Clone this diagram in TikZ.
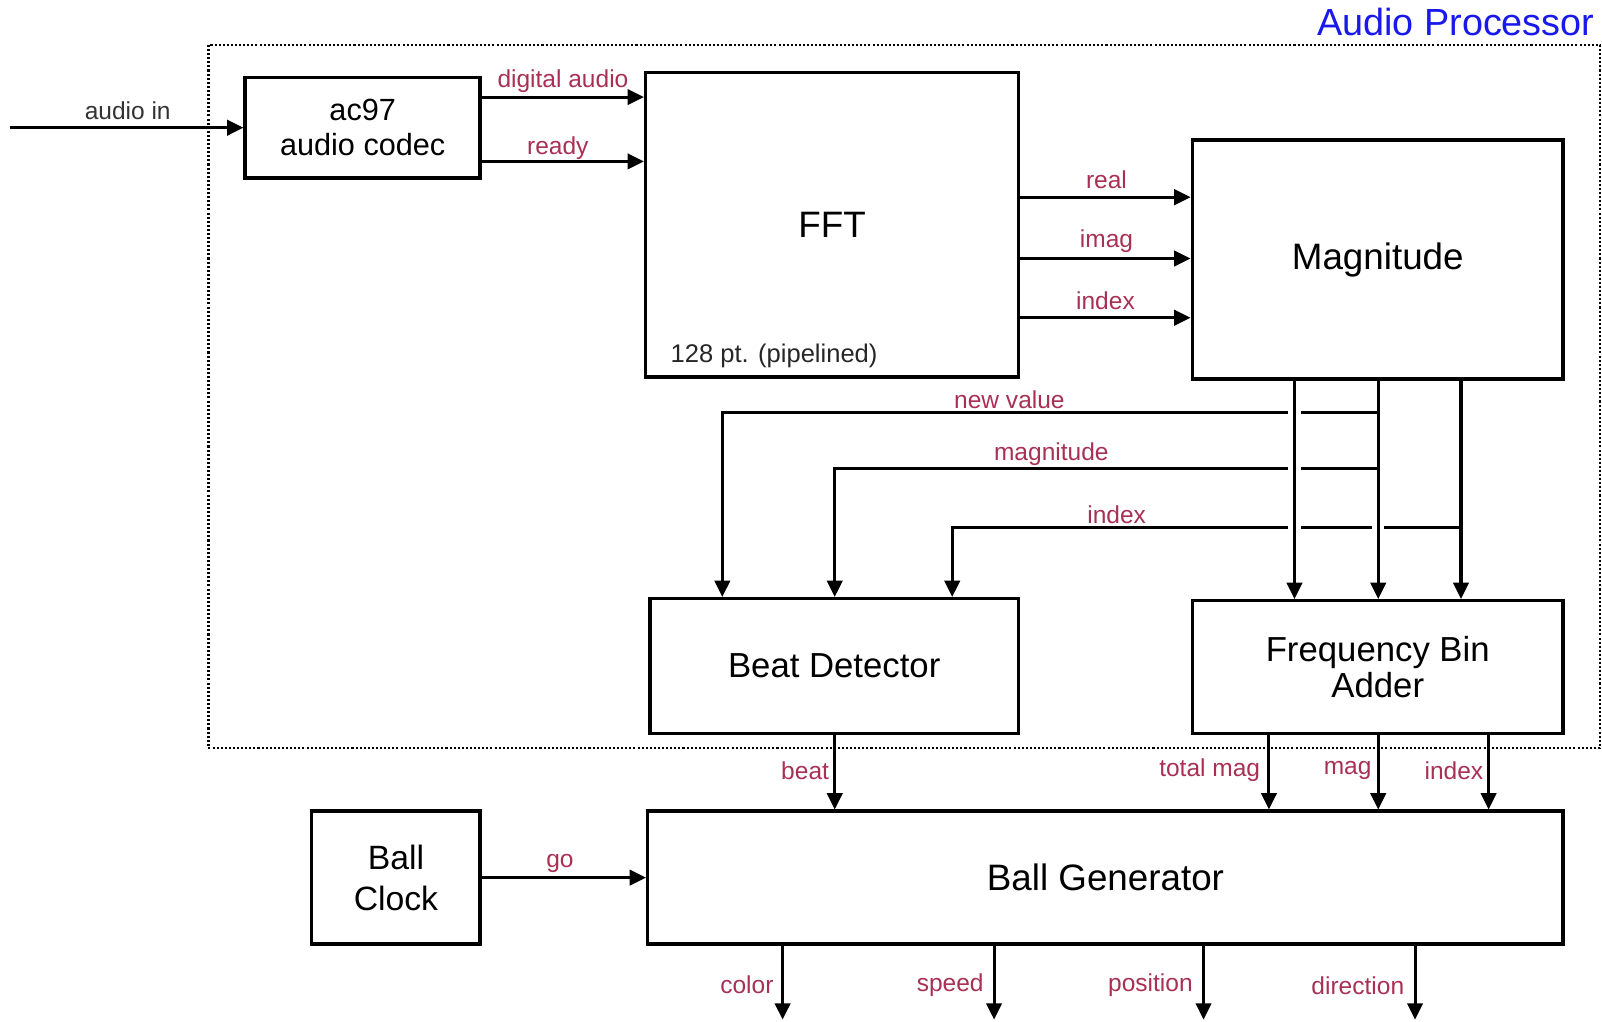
\documentclass[tikz,border=0pt]{standalone}
\usepackage{fontspec}
\setmainfont{Liberation Sans}
\usetikzlibrary{arrows.meta,calc}
\definecolor{labred}{RGB}{168,48,85}
\definecolor{titleblue}{RGB}{25,25,235}
\begin{document}
\begin{tikzpicture}[x=0.5pt,y=-0.5pt,
  box/.style={draw, line width=1.7pt, rectangle, inner sep=0pt, align=center, font=\fontsize{15}{17}\selectfont},
  arr/.style={line width=1.5pt, -{Triangle[length=8pt,width=7.5pt]}},
  lab/.style={text=labred, font=\fontsize{12}{14}\selectfont, inner sep=0pt},
  frame/.style={draw, line width=1.3pt, dash pattern=on 1pt off 1pt, inner sep=0pt}]
\useasboundingbox (0,0) rectangle (1568,1000);

% frame and title
\node[frame, minimum width=681pt, minimum height=344pt] (ap) at (885,388) {};
\node[anchor=east, inner sep=0pt, text=titleblue, font=\fontsize{18.5}{20}\selectfont] (title) at (1561,22) {Audio Processor};

% blocks
\node[box, minimum width=115pt, minimum height=49pt] (codec) at (355,125) {ac97\\audio codec};
\node[box, minimum width=182.5pt, minimum height=149pt, font=\fontsize{18}{20}\selectfont] (fft) at (814.5,220) {FFT};
\node[anchor=west, inner sep=0pt, font=\fontsize{12.5}{14}\selectfont, text=black!85] (pipe) at (656,348) {128 pt. (pipelined)};
\node[box, minimum width=181.5pt, minimum height=117pt, font=\fontsize{18}{20}\selectfont] (mag) at (1348.5,254) {Magnitude};
\node[box, minimum width=180.5pt, minimum height=66pt, font=\fontsize{17}{19}\selectfont] (beat) at (816.5,652) {\raisebox{1pt}{Beat Detector}};
\node[box, minimum width=181.5pt, minimum height=65pt, font=\fontsize{17}{17.5}\selectfont] (fba) at (1348.5,653) {Frequency Bin\\Adder};
\node[box, minimum width=448pt, minimum height=65pt, font=\fontsize{18}{20}\selectfont] (gen) at (1082,859) {Ball Generator};
\node[box, minimum width=82.5pt, minimum height=65pt, font=\fontsize{16.5}{18}\selectfont] (clock) at (387.5,859) {\raisebox{2pt}{Ball}\\Clock};

% helper coordinates
\coordinate (ain) at (10,125);
\coordinate (yDA) at (0,95);
\coordinate (yRD) at (0,158);
\coordinate (yRE) at (0,193);
\coordinate (yIM) at (0,253);
\coordinate (yIX) at (0,311);
\coordinate (xa) at (1267,0);
\coordinate (xb) at (1349,0);
\coordinate (xc) at (1430,0);
\coordinate (nv) at (1349,404);
\coordinate (mg) at (1349,459);
\coordinate (ix) at (1430,516);
\coordinate (bA) at (707,0);
\coordinate (bB) at (817,0);
\coordinate (bC) at (932,0);
\coordinate (o1) at (1242,0);
\coordinate (o2) at (1349,0);
\coordinate (o3) at (1457,0);
\coordinate (e1) at (766,998);
\coordinate (e2) at (973,998);
\coordinate (e3) at (1178,998);
\coordinate (e4) at (1385,998);

% input
\draw[arr] (ain) -- (codec.west);
\node[inner sep=0pt, text=black!80, font=\fontsize{12}{14}\selectfont] (lain) at (125,108) {audio in};

% codec -> fft
\draw[arr] (codec.east |- yDA) -- (fft.west |- yDA);
\draw[arr] (codec.east |- yRD) -- (fft.west |- yRD);
\node[lab] (lda) at (551,79) {digital audio};
\node[lab] (lrd) at (546,145) {ready};

% fft -> magnitude
\draw[arr] (fft.east |- yRE) -- (mag.west |- yRE);
\draw[arr] (fft.east |- yIM) -- (mag.west |- yIM);
\draw[arr] (fft.east |- yIX) -- (mag.west |- yIX);
\node[lab] (lre) at (1083,176) {real};
\node[lab] (lim) at (1083,236) {imag};
\node[lab] (lix) at (1082,294) {index};

% magnitude -> beat detector
\draw[arr] (nv) -| (beat.north -| bA);
\draw[arr] (mg) -| (beat.north -| bB);
\draw[arr] (ix) -| (beat.north -| bC);
\node[lab] (lnv) at (988,391) {new value};
\node[lab] (lmg) at (1029,445) {magnitude};
\node[lab] (lix2) at (1093,504) {index};

% crossing gaps
\fill[white] (1261,398) rectangle (1273,410);
\fill[white] (1261,453) rectangle (1273,465);
\fill[white] (1261,510) rectangle (1273,522);
\fill[white] (1343,510) rectangle (1355,522);

% magnitude -> frequency bin adder
\draw[arr] (mag.south -| xa) -- (fba.north -| xa);
\draw[arr] (mag.south -| xb) -- (fba.north -| xb);
\draw[arr] (mag.south -| xc) -- (fba.north -| xc);

% into ball generator
\draw[arr] (beat.south -| bB) -- (gen.north -| bB);
\node[lab] (lbeat) at (788,754) {beat};
\draw[arr] (fba.south -| o1) -- (gen.north -| o1);
\draw[arr] (fba.south -| o2) -- (gen.north -| o2);
\draw[arr] (fba.south -| o3) -- (gen.north -| o3);
\node[lab] (ltm) at (1184,754) {total mag};
\node[lab] (lmag) at (1319,754) {mag};
\node[lab] (lidx) at (1423,754) {index};

\draw[arr] (clock.east) -- (gen.west |- clock.east);
\node[lab] (lgo) at (548,845) {go};

% outputs
\draw[arr] (gen.south -| e1) -- (e1);
\draw[arr] (gen.south -| e2) -- (e2);
\draw[arr] (gen.south -| e3) -- (e3);
\draw[arr] (gen.south -| e4) -- (e4);
\node[lab] (lcol) at (731,964) {color};
\node[lab] (lspd) at (930,964) {speed};
\node[lab] (lpos) at (1126,964) {position};
\node[lab] (ldir) at (1329,965) {direction};
\end{tikzpicture}
\end{document}
